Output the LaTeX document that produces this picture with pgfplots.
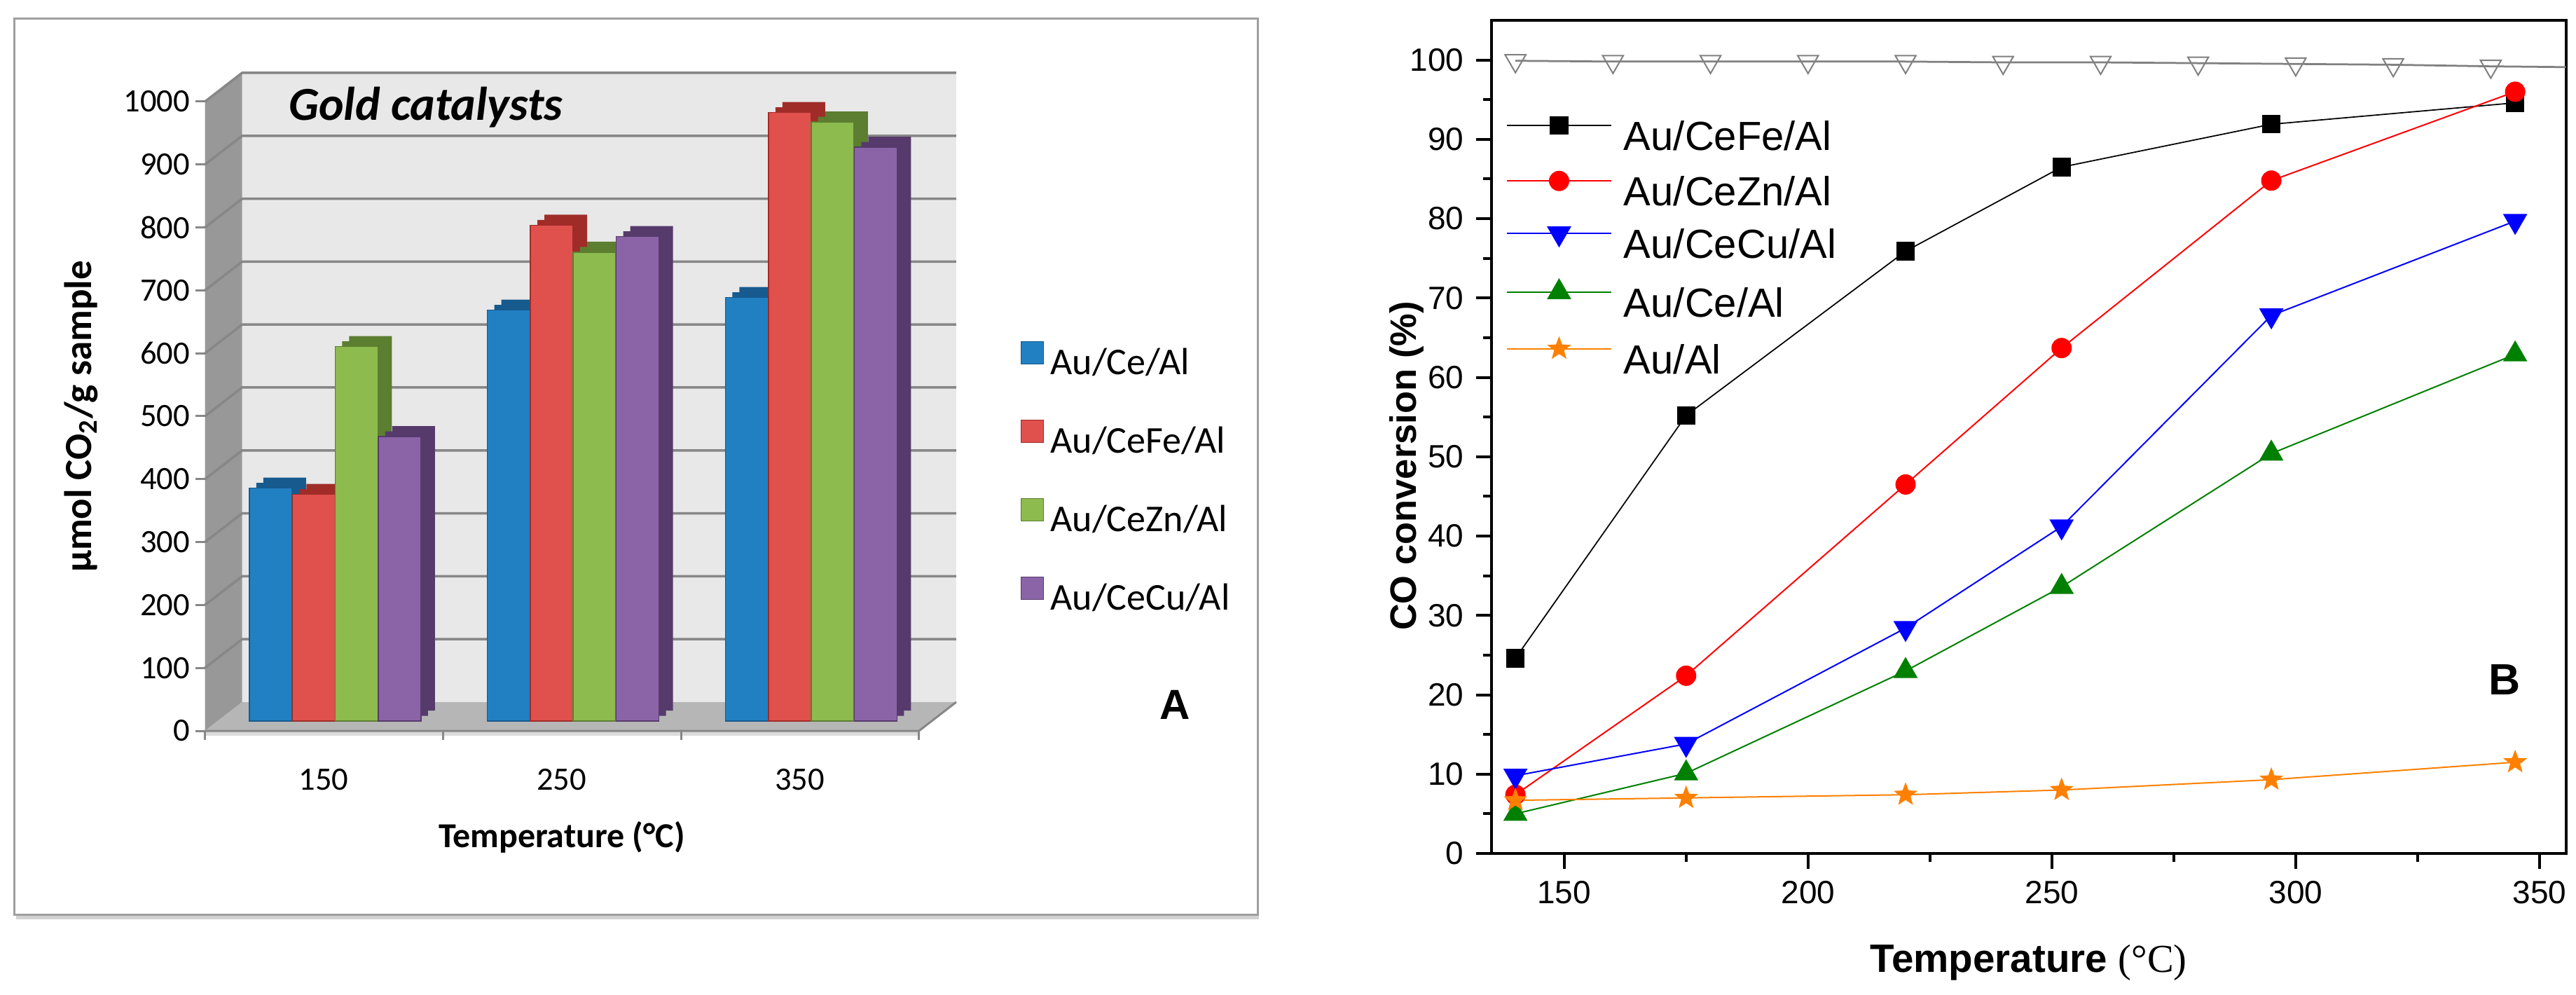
\documentclass[border=0pt]{standalone}
\usepackage{fontspec}
\setmainfont{Liberation Sans}
\newfontfamily\carlito{Carlito}
\newfontfamily\lserif{Liberation Serif}
\usepackage{pgfplots}
\usepackage{pgfplotstable}
\pgfplotsset{compat=1.18}
\usetikzlibrary{plotmarks}

\definecolor{cblue}{RGB}{33,128,194}\definecolor{cblued}{RGB}{22,90,142}
\definecolor{cred}{RGB}{224,80,77}\definecolor{credd}{RGB}{160,44,40}
\definecolor{cgreen}{RGB}{141,187,78}\definecolor{cgreend}{RGB}{92,126,48}
\definecolor{cpurp}{RGB}{139,100,168}\definecolor{cpurpd}{RGB}{86,58,108}
\definecolor{wallc}{RGB}{232,232,232}
\definecolor{sidec}{RGB}{152,152,152}
\definecolor{floorc}{RGB}{182,182,182}
\definecolor{gridc}{RGB}{135,135,135}
\definecolor{corange}{RGB}{255,128,0}
\definecolor{cgreenl}{RGB}{0,128,0}

\pgfdeclareplotmark{fstar}{%
  \pgfpathmoveto{\pgfpointpolar{90}{\pgfplotmarksize}}%
  \pgfpathlineto{\pgfpointpolar{126}{0.42\pgfplotmarksize}}%
  \pgfpathlineto{\pgfpointpolar{162}{\pgfplotmarksize}}%
  \pgfpathlineto{\pgfpointpolar{198}{0.42\pgfplotmarksize}}%
  \pgfpathlineto{\pgfpointpolar{234}{\pgfplotmarksize}}%
  \pgfpathlineto{\pgfpointpolar{270}{0.42\pgfplotmarksize}}%
  \pgfpathlineto{\pgfpointpolar{306}{\pgfplotmarksize}}%
  \pgfpathlineto{\pgfpointpolar{342}{0.42\pgfplotmarksize}}%
  \pgfpathlineto{\pgfpointpolar{18}{\pgfplotmarksize}}%
  \pgfpathlineto{\pgfpointpolar{54}{0.42\pgfplotmarksize}}%
  \pgfpathclose\pgfusepathqfillstroke}

% CO2 capacity (umol CO2 / g), categories 150, 250, 350 at x = 0, 1, 2
\pgfplotstableread{
x ce fe zn cu
0 370 360 595 452
1 653 788 745 770
2 673 967 952 912
}\capdata

% CO conversion (%)
\pgfplotstableread{
x fe zn cu ce al
140 24.6 7.4 9.8 5.0 6.7
175 55.2 22.4 13.8 10.1 7.0
220 75.9 46.5 28.4 23.0 7.4
252 86.5 63.7 41.2 33.6 8.0
295 91.9 84.8 67.8 50.4 9.3
345 94.6 96.0 79.7 62.9 11.5
}\convdata

\pgfplotstableread{
x y
140 99.9
160 99.8
180 99.8
200 99.8
220 99.8
240 99.7
260 99.7
280 99.6
300 99.5
320 99.4
340 99.2
355.4 99.1
}\refdata

\def\fx{-3.2pt}\def\fy{-2.8pt}
\def\bx{7.4pt}\def\by{5.4pt}

\pgfplotsset{
  sqleg/.style={legend image code/.code={\fill[##1] (0pt,0.3pt) rectangle (6.4pt,6.7pt);}},
}

\begin{document}
\begin{tikzpicture}
\useasboundingbox (0pt,0pt) rectangle (735.4pt,283.8pt);
% frame of panel A
\draw[gray!35, line width=1.2pt] (4.6pt,22.0pt) -- (359.4pt,22.0pt);
\draw[gray!75, line width=0.6pt] (4pt,22.8pt) rectangle (359pt,278.4pt);

\begin{axis}[
  at={(61.72pt,78pt)}, anchor=south west, scale only axis,
  width=203.85pt, height=179.6pt,
  xmin=-0.5, xmax=2.5, ymin=0, ymax=1000,
  clip=false,
  axis line style={draw=none},
  major tick length=0pt, tick style={draw=none},
  xtick={0,1,2}, xticklabels={150,250,350},
  ytick={0,100,...,1000},
  /pgf/number format/assume math mode=true,
  /pgf/number format/1000 sep={},
  ticklabel style={font=\carlito\fontsize{9.3}{11}\selectfont},
  yticklabel style={inner sep=0pt, anchor=east, xshift=-7.3pt, yshift=-2.8pt},
  xticklabel style={inner sep=0pt, anchor=center, xshift=-3.3pt, yshift=-16.8pt},
  xlabel={Temperature (°C)},
  xlabel style={at={(axis description cs:0.484,-0.185)}, anchor=center, font=\carlito\bfseries\fontsize{10}{12}\selectfont},
  ylabel={µmol CO\textsubscript{2}/g sample},
  ylabel style={at={(axis description cs:-0.189,0.484)}, anchor=center, font=\carlito\bfseries\fontsize{11}{13}\selectfont},
  legend style={at={(1.1257,0.605)}, anchor=north west, draw=none, fill=none,
    inner sep=0pt, row sep=10.3pt, column sep=1.8pt,
    font=\carlito\fontsize{10.8}{12}\selectfont,
    nodes={inner sep=0pt, text height=8pt, text depth=2.5pt},
    cells={anchor=west}},
]
% walls and floor
\fill[wallc] ([shift={(\bx,\by)}]axis cs:-0.5,0) rectangle ([shift={(\bx,\by)}]axis cs:2.5,1000);
\fill[sidec] ([shift={(\fx,\fy)}]axis cs:-0.5,0) -- ([shift={(\bx,\by)}]axis cs:-0.5,0) -- ([shift={(\bx,\by)}]axis cs:-0.5,1000) -- ([shift={(\fx,\fy)}]axis cs:-0.5,1000) -- cycle;
\fill[floorc] ([shift={(\fx,\fy)}]axis cs:-0.5,0) -- ([shift={(\fx,\fy)}]axis cs:2.5,0) -- ([shift={(\bx,\by)}]axis cs:2.5,0) -- ([shift={(\bx,\by)}]axis cs:-0.5,0) -- cycle;
\fill[gray!28] ([shift={(\fx,\fy)}]axis cs:-0.5,0) rectangle ([shift={(-3.2pt,-4.2pt)}]axis cs:2.5,0);
\pgfplotsinvokeforeach{100,200,300,400,500,600,700,800,900,1000}{
  \draw[gridc, line width=0.7pt] ([shift={(\fx,\fy)}]axis cs:-0.5,#1) -- ([shift={(\bx,\by)}]axis cs:-0.5,#1) -- ([shift={(\bx,\by)}]axis cs:2.5,#1);
}
\pgfplotsinvokeforeach{0,100,200,300,400,500,600,700,800,900,1000}{
  \draw[gridc, line width=0.6pt] ([shift={(-6.0pt,\fy)}]axis cs:-0.5,#1) -- ([shift={(\fx,\fy)}]axis cs:-0.5,#1);
}
\draw[gridc, line width=0.6pt] ([shift={(\fx,\fy)}]axis cs:-0.5,0) -- ([shift={(\fx,\fy)}]axis cs:2.5,0) -- ([shift={(\bx,\by)}]axis cs:2.5,0);
\pgfplotsinvokeforeach{-0.5,0.5,1.5,2.5}{
  \draw[gridc, line width=0.6pt] ([shift={(\fx,\fy)}]axis cs:#1,0) -- ([shift={(-3.2pt,-5.4pt)}]axis cs:#1,0);
}
% bars (dark copies give the depth)
\addplot[forget plot, ybar, bar width=12.2pt, bar shift=-16.4pt, yshift=1.5pt, fill=cblued, draw=none] table[x=x,y=ce]{\capdata};
\addplot[forget plot, ybar, bar width=12.2pt, bar shift=-14.4pt, yshift=3pt, fill=cblued, draw=none] table[x=x,y=ce]{\capdata};
\addplot[ybar, bar width=12.2pt, bar shift=-18.4pt, fill=cblue, draw=cblued, line width=0.3pt, sqleg] table[x=x,y=ce]{\capdata};
\addlegendentry{Au/Ce/Al}
\addplot[forget plot, ybar, bar width=12.2pt, bar shift=-4.1pt, yshift=1.5pt, fill=credd, draw=none] table[x=x,y=fe]{\capdata};
\addplot[forget plot, ybar, bar width=12.2pt, bar shift=-2.1pt, yshift=3pt, fill=credd, draw=none] table[x=x,y=fe]{\capdata};
\addplot[ybar, bar width=12.2pt, bar shift=-6.1pt, fill=cred, draw=credd, line width=0.3pt, sqleg] table[x=x,y=fe]{\capdata};
\addlegendentry{Au/CeFe/Al}
\addplot[forget plot, ybar, bar width=12.2pt, bar shift=8.1pt, yshift=1.5pt, fill=cgreend, draw=none] table[x=x,y=zn]{\capdata};
\addplot[forget plot, ybar, bar width=12.2pt, bar shift=10.1pt, yshift=3pt, fill=cgreend, draw=none] table[x=x,y=zn]{\capdata};
\addplot[ybar, bar width=12.2pt, bar shift=6.1pt, fill=cgreen, draw=cgreend, line width=0.3pt, sqleg] table[x=x,y=zn]{\capdata};
\addlegendentry{Au/CeZn/Al}
\addplot[forget plot, ybar, bar width=12.2pt, bar shift=20.4pt, yshift=1.5pt, fill=cpurpd, draw=none] table[x=x,y=cu]{\capdata};
\addplot[forget plot, ybar, bar width=12.2pt, bar shift=22.4pt, yshift=3pt, fill=cpurpd, draw=none] table[x=x,y=cu]{\capdata};
\addplot[ybar, bar width=12.2pt, bar shift=18.4pt, fill=cpurp, draw=cpurpd, line width=0.3pt, sqleg] table[x=x,y=cu]{\capdata};
\addlegendentry{Au/CeCu/Al}
\end{axis}

\node[anchor=base west, font=\carlito\bfseries\itshape\fontsize{13.5}{15}\selectfont, inner sep=0pt] at (82.2pt,249.4pt) {Gold catalysts};
\node[font=\bfseries\fontsize{12}{14}\selectfont] at (335.4pt,82.6pt) {A};

\begin{axis}[
  at={(425.8pt,40.2pt)}, anchor=south west, scale only axis,
  width=306.7pt, height=237.8pt,
  xmin=135.1, xmax=355.4, ymin=0, ymax=105,
  xtick={150,200,...,350}, ytick={0,10,...,100},
  minor x tick num=1, minor y tick num=1,
  tick pos=left, tick align=outside,
  major tick length=4.4pt, minor tick length=2.4pt,
  axis line style={line width=0.8pt},
  major tick style={line width=0.8pt, black},
  minor tick style={line width=0.8pt, black},
  /pgf/number format/assume math mode=true,
  ticklabel style={font=\fontsize{9.2}{11}\selectfont},
  xlabel={{\bfseries Temperature} {\lserif (°C)}},
  xlabel style={at={(axis description cs:0.5,-0.131)}, anchor=center, font=\fontsize{11.3}{13}\selectfont},
  ylabel={CO conversion (\%)},
  ylabel style={at={(axis description cs:-0.079,0.465)}, anchor=center, font=\bfseries\fontsize{10.5}{12}\selectfont},
  legend style={at={(0.013,0.885)}, anchor=north west, draw=none, fill=none,
    inner sep=0pt, row sep=3pt, column sep=3.4pt,
    font=\fontsize{11.6}{13}\selectfont,
    nodes={inner sep=0pt, text height=9pt, text depth=3pt},
    cells={anchor=west}},
  legend image code/.code={\draw[mark repeat=2, mark phase=2, #1] plot coordinates {(0pt,4.15pt) (14.9pt,4.15pt) (29.8pt,4.15pt)};},
]
\addplot[forget plot, color=gray, line width=0.55pt, mark=triangle, mark size=3.4pt,
  mark options={rotate=180, fill=white, line width=0.4pt},
  mark indices={1,2,3,4,5,6,7,8,9,10,11}] table[x=x,y=y]{\refdata};
\addplot[black, line width=0.35pt, mark=square*, mark size=2.45pt] table[x=x,y=fe]{\convdata};
\addlegendentry{Au/CeFe/Al}
\addplot[red, line width=0.4pt, mark=*, mark size=2.7pt] table[x=x,y=zn]{\convdata};
\addlegendentry{Au/CeZn/Al}
\addplot[blue, line width=0.4pt, mark=triangle*, mark size=3.6pt, mark options={rotate=180}] table[x=x,y=cu]{\convdata};
\addlegendentry{Au/CeCu/Al}
\addplot[cgreenl, line width=0.4pt, mark=triangle*, mark size=3.6pt] table[x=x,y=ce]{\convdata};
\addlegendentry{Au/Ce/Al}
\addplot[corange, line width=0.4pt, mark=fstar, mark size=3pt] table[x=x,y=al]{\convdata};
\addlegendentry{Au/Al}
\end{axis}

\node[font=\bfseries\fontsize{12.5}{14}\selectfont] at (715pt,89.8pt) {B};
\end{tikzpicture}
\end{document}
